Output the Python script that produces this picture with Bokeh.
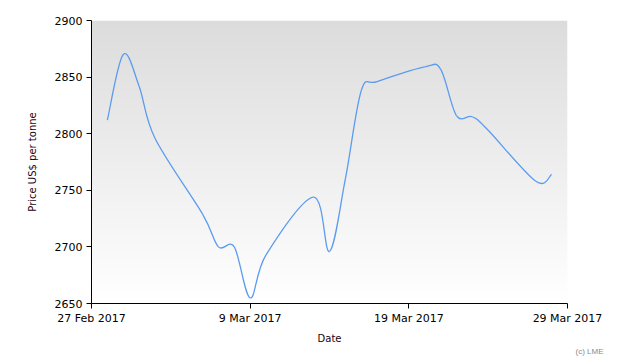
import numpy as np
from bokeh.plotting import figure
from bokeh.models import FixedTicker, DatetimeTickFormatter, Range1d, Title
from bokeh.embed import file_html
from bokeh.resources import INLINE

# ---- data ----
dates = ["2017-02-28", "2017-03-01", "2017-03-02", "2017-03-03", "2017-03-06",
         "2017-03-07", "2017-03-08", "2017-03-09", "2017-03-10", "2017-03-13",
         "2017-03-14", "2017-03-15", "2017-03-16", "2017-03-17", "2017-03-20",
         "2017-03-21", "2017-03-22", "2017-03-23", "2017-03-24", "2017-03-27",
         "2017-03-28"]
prices = [2812, 2870, 2842, 2796, 2729,
          2700, 2700, 2655, 2693, 2744,
          2696, 2760, 2838, 2846, 2859,
          2857, 2816, 2815, 2803, 2758,
          2764]
tick_dates = ["2017-02-27", "2017-03-09", "2017-03-19", "2017-03-29"]
y_ticks = [2650, 2700, 2750, 2800, 2850, 2900]
x_label = "Date"
y_label = "Price US$ per tonne"
credit = "(c) LME"


def to_ms(d):
    return np.array(d, dtype="datetime64[ms]").astype("int64").astype(float)


xs = to_ms(dates)
ys = np.array(prices, dtype=float)
xt = to_ms(tick_dates)

x0, x1 = xt[0], xt[-1]
y0, y1 = y_ticks[0], y_ticks[-1]

p = figure(width=630, height=360, output_backend="svg", toolbar_location=None,
           x_axis_type="datetime",
           x_range=Range1d(x0, x1), y_range=Range1d(y0, y1),
           min_border_left=91, min_border_right=63, min_border_top=20,
           min_border_bottom=57)
p.background_fill_color = "white"
p.border_fill_color = "white"
p.outline_line_color = None
p.grid.visible = False

# gradient plot-area fill (gainsboro at top to white at bottom)
H = 284
top = np.array([220, 220, 220], dtype=float)
bot = np.array([255, 255, 255], dtype=float)
img = np.zeros((H, 2), dtype=np.uint32)
view = img.view(dtype=np.uint8).reshape((H, 2, 4))
for r in range(H):
    f = r / (H - 1)
    c = bot + (top - bot) * f
    view[r, :, 0] = int(round(c[0]))
    view[r, :, 1] = int(round(c[1]))
    view[r, :, 2] = int(round(c[2]))
    view[r, :, 3] = 255
p.image_rgba(image=[img], x=x0, y=y0, dw=x1 - x0, dh=y1 - y0)

# smoothed curve (cardinal spline, tension 0.5) as bezier segments
P = np.column_stack([xs, ys])
ext = np.vstack([P[0], P, P[-1]])
k = 0.5 / 3.0
sx0, sy0, sx1, sy1, cx0, cy0, cx1, cy1 = ([] for _ in range(8))
for i in range(len(P) - 1):
    a, b = P[i], P[i + 1]
    prev, nxt = ext[i], ext[i + 3]
    c0 = a + k * (b - prev)
    c1 = b - k * (nxt - a)
    sx0.append(a[0]); sy0.append(a[1]); sx1.append(b[0]); sy1.append(b[1])
    cx0.append(c0[0]); cy0.append(c0[1]); cx1.append(c1[0]); cy1.append(c1[1])
p.bezier(x0=sx0, y0=sy0, x1=sx1, y1=sy1, cx0=cx0, cy0=cy0, cx1=cx1, cy1=cy1,
         line_color="#5b9bf0", line_width=1.3)

# axes
p.xaxis.ticker = FixedTicker(ticks=list(xt))
fmt = "%-d %b %Y"
p.xaxis.formatter = DatetimeTickFormatter(days=fmt, months=fmt, years=fmt,
                                          hours=fmt, minutes=fmt, seconds=fmt,
                                          milliseconds=fmt, microseconds=fmt,
                                          hourmin=fmt, minsec=fmt,
                                          context=None)
p.yaxis.ticker = FixedTicker(ticks=y_ticks)
for ax in (p.xaxis, p.yaxis):
    ax.axis_line_color = "black"
    ax.axis_line_width = 1
    ax.major_tick_line_color = "black"
    ax.major_tick_out = 5
    ax.major_tick_in = 0
    ax.minor_tick_line_color = None
    ax.major_label_text_font = "DejaVu Sans"
    ax.major_label_text_font_size = "11px"
    ax.major_label_text_color = "black"
    ax.axis_label_text_font = "DejaVu Sans"
    ax.axis_label_text_font_size = "10px"
    ax.axis_label_text_font_style = "normal"
    ax.axis_label_text_color = "#1a0010"
p.xaxis.axis_label = x_label
p.yaxis.axis_label = y_label
p.xaxis.major_label_standoff = 3
p.yaxis.major_label_standoff = 4
p.xaxis.axis_label_standoff = 5
p.yaxis.axis_label_standoff = 14

p.add_layout(Title(text=credit, align="right", offset=-36, standoff=0,
                   vertical_align="top",
                   text_font="Liberation Sans", text_font_size="8px",
                   text_font_style="normal", text_color="#8a8a8a"), "below")

open("out.html", "w").write(file_html(p, INLINE))
